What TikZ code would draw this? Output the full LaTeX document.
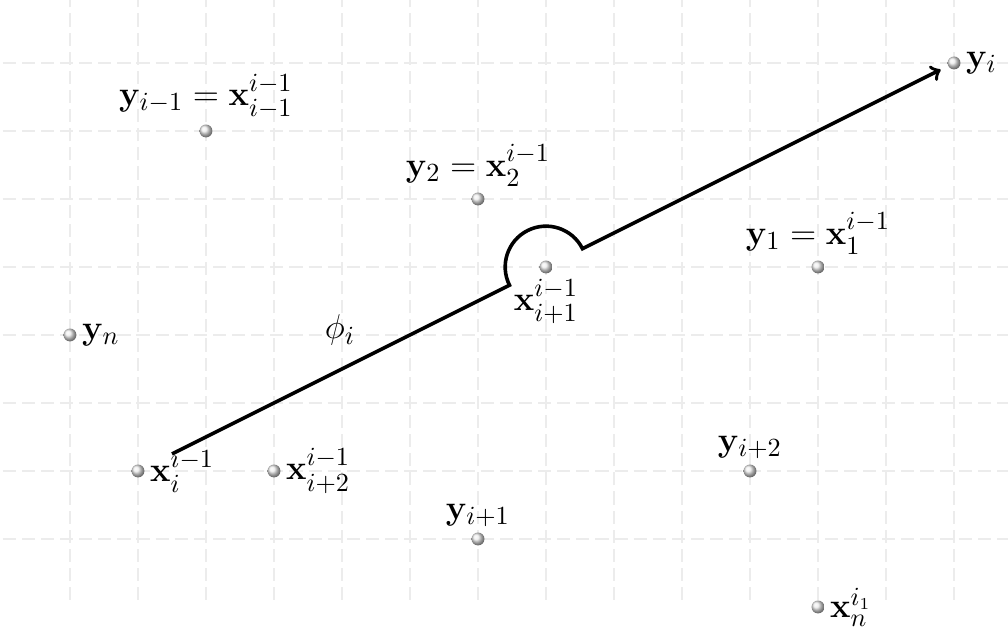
\documentclass[tikz,border=0pt]{standalone}
\usepackage{amsfonts,amsmath,amssymb}
\usepackage{xcolor}
\usepackage{tikz}
\usetikzlibrary{arrows, calc}

\begin{document}
\begin{tikzpicture}[scale=1,
        pt/.style={circle, inner sep=0pt, minimum size=1.9mm, shading=ball, ball color=gray!15},
        every label/.style={font=\fontsize{15}{18}\selectfont, inner sep=2pt}]
        \useasboundingbox (-1.029,-0.368) rectangle (13.794,8.926);
        % Grille
        \draw[gray!15, line width=0.5pt, dash pattern=on 5.5pt off 2.5pt] (-0.99,0.1) grid (13.794,8.926);
        % Points
        \node[pt, label=right:{$\mathbf{y}_i$}] (yi) at (13,8) {};
        \node[pt, label=above:{$\mathbf{y}_{i-1} = \mathbf{x}^{i-1}_{i-1}$}] (yim1) at (2,7) {};
        \node[pt, label=above:{$\mathbf{y}_2 = \mathbf{x}^{i-1}_2$}] (y2) at (6,6) {};
        \node[pt, label=below:{$\mathbf{x}^{i-1}_{i+1}$}] (xip1) at (7,5) {};
        \node[pt, label=above:{$\mathbf{y}_1 = \mathbf{x}^{i-1}_1$}] (y1) at (11,5) {};
        \node[pt, label=right:{$\mathbf{y}_n$}] (yn) at (0,4) {};
        \node[pt, label=right:{$\mathbf{x}^{i-1}_i$}] (xi) at (1,2) {};
        \node[pt, label=right:{$\mathbf{x}^{i-1}_{i+2}$}] (xip2) at (3,2) {};
        \node[pt, label=above:{$\mathbf{y}_{i+2}$}] (yip2) at (10,2) {};
        \node[pt, label=above:{$\mathbf{y}_{i+1}$}] (yip1) at (6,1) {};
        \node[pt, label=right:{$\mathbf{x}^{i_1}_n$}] (xn) at (11,0) {};
        % Direction
        \draw[->, line width=1.5pt] ($(xi)!0.56cm!(yi)$) -- ($(xip1)!0.6cm!(xi)$)
            arc[start angle=206.57, end angle=26.57, radius=0.6cm]
            -- ($(yi)!0.22cm!(xi)$);
        \node[font=\fontsize{15}{18}\selectfont] (phi) at (3.97,4.07) {$\phi_i$};
    \end{tikzpicture}
\end{document}
